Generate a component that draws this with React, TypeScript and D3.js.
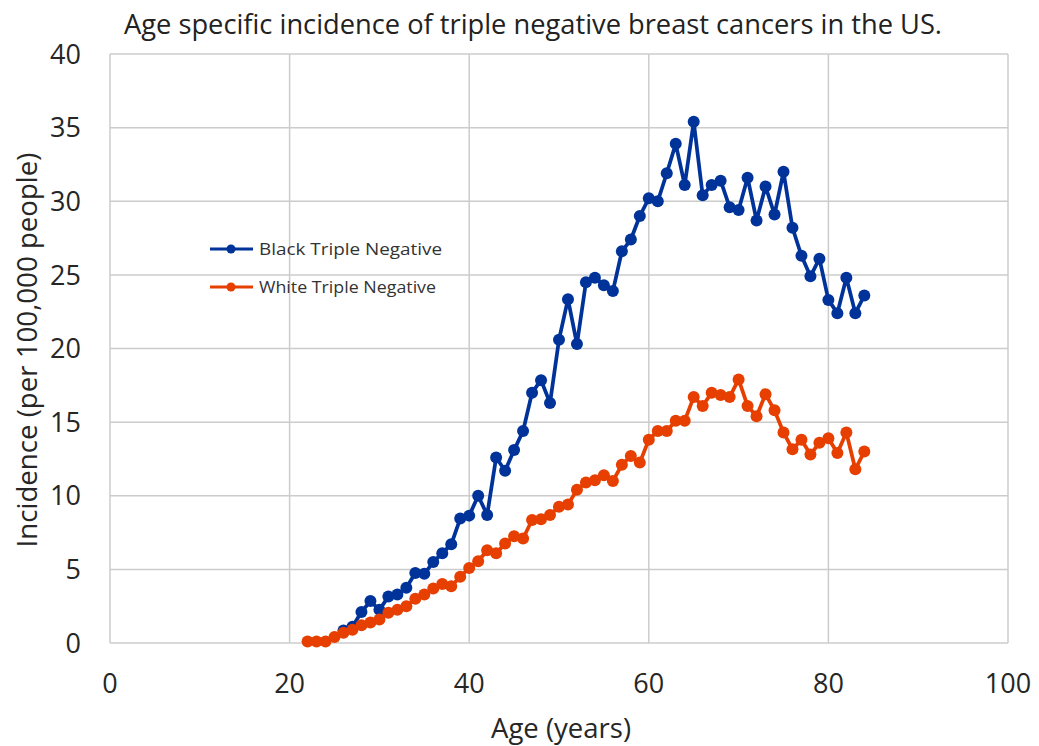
import React, { useEffect, useRef } from 'react';
import * as d3 from 'd3';

// incidence per 100,000
const blackAges = d3.range(26, 85);
const blackValues = [
  0.85, 1.1, 2.1, 2.85, 2.25, 3.15, 3.3, 3.75, 4.75, 4.7,
  5.5, 6.1, 6.7, 8.45, 8.65, 10.0, 8.7, 12.6, 11.7, 13.1,
  14.4, 17.0, 17.85, 16.3, 20.6, 23.35, 20.3, 24.5, 24.8, 24.3,
  23.9, 26.6, 27.4, 29.0, 30.2, 30.0, 31.9, 33.9, 31.1, 35.4,
  30.4, 31.1, 31.4, 29.6, 29.4, 31.6, 28.7, 31.0, 29.1, 32.0,
  28.2, 26.3, 24.9, 26.1, 23.3, 22.4, 24.8, 22.4, 23.6,
];

const whiteAges = d3.range(22, 85);
const whiteValues = [
  0.1, 0.1, 0.1, 0.4, 0.7, 0.9, 1.2, 1.4, 1.6, 2.05,
  2.25, 2.5, 3.0, 3.3, 3.7, 4.0, 3.85, 4.5, 5.1, 5.55,
  6.3, 6.1, 6.75, 7.25, 7.1, 8.35, 8.4, 8.7, 9.25, 9.4,
  10.4, 10.9, 11.05, 11.4, 11.0, 12.1, 12.7, 12.25, 13.8, 14.4,
  14.4, 15.1, 15.1, 16.7, 16.1, 17.0, 16.85, 16.7, 17.9, 16.1,
  15.4, 16.9, 15.8, 14.3, 13.15, 13.8, 12.8, 13.6, 13.9, 12.9,
  14.3, 11.8, 13.0,
];

const xTicks = [0, 20, 40, 60, 80, 100];
const yTicks = [0, 5, 10, 15, 20, 25, 30, 35, 40];

const series = [
  { name: 'Black Triple Negative', color: '#00339a', ages: blackAges, values: blackValues },
  { name: 'White Triple Negative', color: '#e63f00', ages: whiteAges, values: whiteValues },
];

const W = 1039;
const H = 746;
const FONT = '"Open Sans", "DejaVu Sans", sans-serif';

export default function App() {
  const ref = useRef<SVGSVGElement | null>(null);

  useEffect(() => {
    document.body.style.margin = '0';
    const svg = d3.select(ref.current);
    svg.selectAll('*').remove();

    const left = 110, right = 1008, top = 54, bottom = 643;
    const x = d3.scaleLinear().domain([0, 100]).range([left, right]);
    const y = d3.scaleLinear().domain([0, 40]).range([bottom, top]);

    // gridlines
    svg.append('g').selectAll('line.v')
      .data(xTicks).enter().append('line')
      .attr('x1', d => x(d)).attr('x2', d => x(d))
      .attr('y1', top).attr('y2', bottom)
      .attr('stroke', '#cccccc').attr('stroke-width', 1.5);
    svg.append('g').selectAll('line.h')
      .data(yTicks).enter().append('line')
      .attr('x1', left).attr('x2', right)
      .attr('y1', d => y(d)).attr('y2', d => y(d))
      .attr('stroke', '#cccccc').attr('stroke-width', 1.5);

    // tick labels
    svg.append('g').selectAll('text')
      .data(yTicks).enter().append('text')
      .attr('x', 81).attr('y', d => y(d)).attr('dy', '0.36em')
      .attr('text-anchor', 'end')
      .attr('font-family', FONT).attr('font-size', 27).attr('fill', '#262626')
      .text(d => d);
    svg.append('g').selectAll('text')
      .data(xTicks).enter().append('text')
      .attr('x', d => x(d)).attr('y', 693)
      .attr('text-anchor', 'middle')
      .attr('font-family', FONT).attr('font-size', 27).attr('fill', '#262626')
      .text(d => d);

    // titles
    svg.append('text')
      .attr('x', 533).attr('y', 34).attr('text-anchor', 'middle')
      .attr('font-family', FONT).attr('font-size', 27).attr('fill', '#222')
      .attr('textLength', 818).attr('lengthAdjust', 'spacingAndGlyphs')
      .text('Age specific incidence of triple negative breast cancers in the US.');
    svg.append('text')
      .attr('x', 561).attr('y', 738).attr('text-anchor', 'middle')
      .attr('font-family', FONT).attr('font-size', 27).attr('fill', '#262626')
      .attr('textLength', 140).attr('lengthAdjust', 'spacingAndGlyphs')
      .text('Age (years)');
    svg.append('text')
      .attr('transform', 'translate(37,350) rotate(-90)').attr('text-anchor', 'middle')
      .attr('font-family', FONT).attr('font-size', 27).attr('fill', '#262626')
      .attr('textLength', 395).attr('lengthAdjust', 'spacingAndGlyphs')
      .text('Incidence (per 100,000 people)');

    // series
    const line = d3.line<[number, number]>().x(d => x(d[0])).y(d => y(d[1]));
    series.forEach(s => {
      const pts: [number, number][] = s.ages.map((a, i) => [a, s.values[i]]);
      const g = svg.append('g');
      g.append('path').datum(pts)
        .attr('d', line).attr('fill', 'none')
        .attr('stroke', s.color).attr('stroke-width', 3.75)
        .attr('stroke-linejoin', 'round');
      g.selectAll('circle').data(pts).enter().append('circle')
        .attr('cx', d => x(d[0])).attr('cy', d => y(d[1]))
        .attr('r', 6).attr('fill', s.color);
    });

    // legend
    const lg = svg.append('g');
    series.forEach((s, i) => {
      const ly = 249 + i * 38;
      lg.append('line').attr('x1', 210).attr('x2', 253).attr('y1', ly).attr('y2', ly)
        .attr('stroke', s.color).attr('stroke-width', 3);
      lg.append('circle').attr('cx', 231).attr('cy', ly).attr('r', 4.5).attr('fill', s.color);
      lg.append('text').attr('x', 259).attr('y', ly).attr('dy', '0.35em')
        .attr('font-family', FONT).attr('font-size', 16).attr('fill', '#333')
        .attr('textLength', i === 0 ? 183 : 177).attr('lengthAdjust', 'spacingAndGlyphs')
        .text(s.name);
    });
  }, []);

  return <svg ref={ref} width={W} height={H} style={{ display: 'block', background: '#fff' }} />;
}
